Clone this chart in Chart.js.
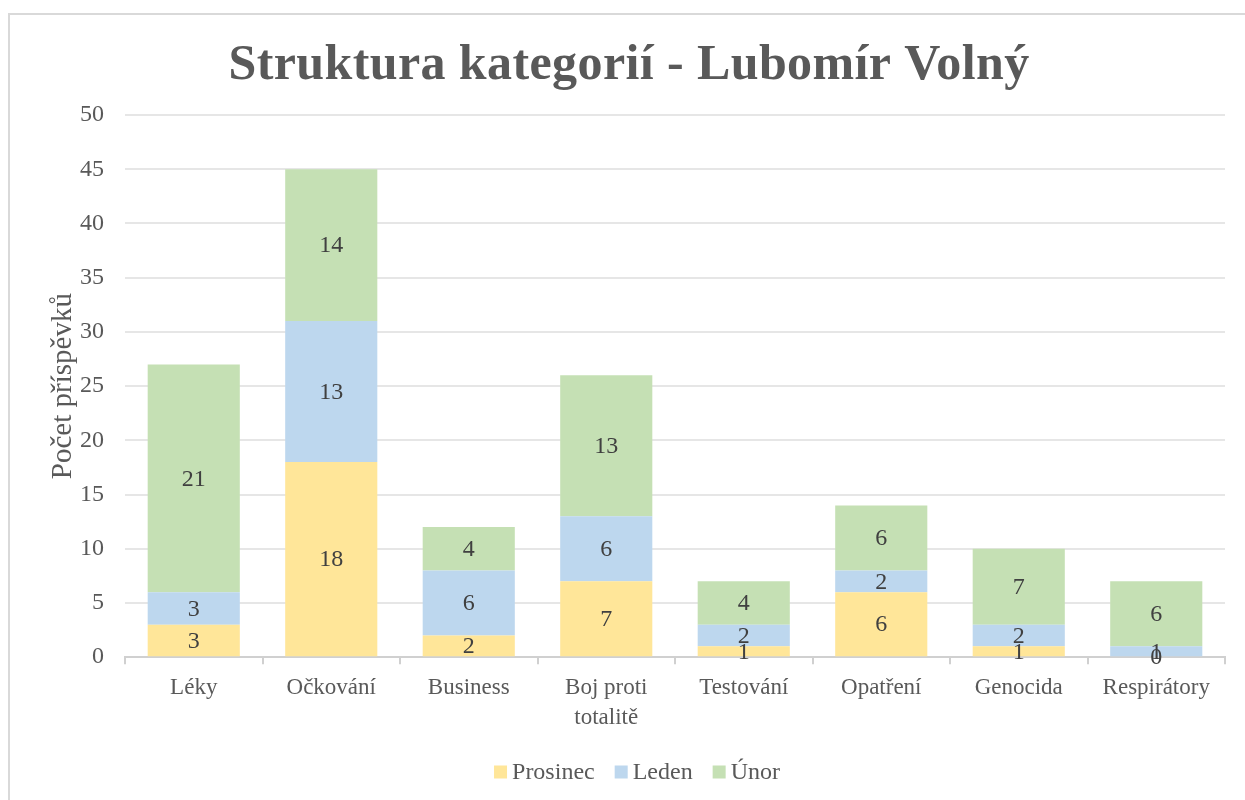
<!DOCTYPE html>
<html>
<head>
<meta charset="utf-8">
<script src="https://cdn.jsdelivr.net/npm/chart.js@4/dist/chart.umd.min.js"></script>
<style>
  html, body { margin: 0; padding: 0; background: #fff; overflow: hidden; }
  #frame { position: absolute; left: 8px; top: 13px; width: 1300px; height: 900px; border: 2px solid #d9d9d9; box-sizing: border-box; }
  #wrap { position: absolute; left: 0; top: 0; width: 1245px; height: 800px; }
</style>
</head>
<body>
<div id="frame"></div>
<div id="wrap"><canvas id="c" width="1245" height="800"></canvas></div>
<script>
const categories = ["Léky", "Očkování", "Business", ["Boj proti", "totalitě"], "Testování", "Opatření", "Genocida", "Respirátory"];
const prosinec = [3, 18, 2, 7, 1, 6, 1, 0];
const leden = [3, 13, 6, 6, 2, 2, 2, 1];
const unor = [21, 14, 4, 13, 4, 6, 7, 6];
const seriesNames = ["Prosinec", "Leden", "Únor"];
const yTicks = [0, 5, 10, 15, 20, 25, 30, 35, 40, 45, 50];

const FONT = "'Liberation Serif', 'Times New Roman', serif";
const TXT = "#595959";

const labelPlugin = {
  id: 'segLabels',
  afterDatasetsDraw(chart) {
    const ctx = chart.ctx;
    ctx.save();
    ctx.font = "24px " + FONT;
    ctx.fillStyle = "#404040";
    ctx.textAlign = "center";
    ctx.textBaseline = "middle";
    chart.data.datasets.forEach((ds, di) => {
      const meta = chart.getDatasetMeta(di);
      meta.data.forEach((el, i) => {
        const p = el.getCenterPoint();
        ctx.fillText(String(ds.data[i]), p.x, p.y + 1);
      });
    });
    ctx.restore();
  }
};

const titlePlugin = {
  id: 'spacedTitle',
  afterDraw(chart) {
    const ctx = chart.ctx;
    ctx.save();
    ctx.font = "bold 50px " + FONT;
    ctx.fillStyle = TXT;
    if ('letterSpacing' in ctx) ctx.letterSpacing = "0.4px";
    ctx.textAlign = "center";
    ctx.textBaseline = "alphabetic";
    ctx.fillText("Struktura kategorií - Lubomír Volný", 629, 79);
    ctx.restore();
  }
};

// legend drawn from the datasets' own labels and colours
const legendPlugin = {
  id: 'bottomLegend',
  afterDraw(chart) {
    const ctx = chart.ctx;
    ctx.save();
    ctx.font = "24px " + FONT;
    ctx.textBaseline = "middle";
    ctx.textAlign = "left";
    const box = 13, gapBT = 5, gapItem = 20, cy = 772;
    const items = chart.data.datasets.map(ds => ({ text: ds.label, color: ds.backgroundColor, w: ctx.measureText(ds.label).width }));
    const total = items.reduce((s, it) => s + box + gapBT + it.w, 0) + gapItem * (items.length - 1);
    let x = 637 - total / 2;
    items.forEach(it => {
      ctx.fillStyle = it.color;
      ctx.fillRect(x, cy - box / 2, box, box);
      x += box + gapBT;
      ctx.fillStyle = TXT;
      ctx.fillText(it.text, x, cy + 1);
      x += it.w + gapItem;
    });
    ctx.restore();
  }
};

new Chart(document.getElementById('c'), {
  type: 'bar',
  data: {
    labels: categories,
    datasets: [
      { label: seriesNames[0], data: prosinec, backgroundColor: '#FFE699' },
      { label: seriesNames[1], data: leden, backgroundColor: '#BDD7EE' },
      { label: seriesNames[2], data: unor, backgroundColor: '#C5E0B4' }
    ]
  },
  options: {
    responsive: false,
    animation: false,
    layout: { padding: { top: 115, right: 20, left: 46, bottom: 58 } },
    datasets: { bar: { categoryPercentage: 0.67, barPercentage: 1.0 } },
    plugins: {
      legend: { display: false },
      title: { display: false },
      tooltip: { enabled: false }
    },
    scales: {
      x: {
        stacked: true,
        grid: { display: true, drawOnChartArea: false, drawTicks: true, tickLength: 7, color: '#d0d0d0', lineWidth: 2, offset: true },
        border: { display: true, color: '#d0d0d0', width: 2 },
        ticks: { font: { family: FONT, size: 23, lineHeight: 1.3 }, color: TXT, padding: 9, maxRotation: 0, autoSkip: false }
      },
      y: {
        stacked: true,
        min: 0, max: 50,
        afterBuildTicks(axis) { axis.ticks = yTicks.map(v => ({ value: v })); },
        afterFit(axis) { axis.width = 79; },
        grid: { color: '#e6e6e6', lineWidth: 2, drawTicks: false },
        border: { display: false },
        ticks: { font: { family: FONT, size: 24 }, color: TXT, padding: 21 },
        title: { display: true, text: 'Počet příspěvků', font: { family: FONT, size: 29 }, color: TXT, padding: 0 }
      }
    }
  },
  plugins: [labelPlugin, titlePlugin, legendPlugin]
});
</script>
</body>
</html>
